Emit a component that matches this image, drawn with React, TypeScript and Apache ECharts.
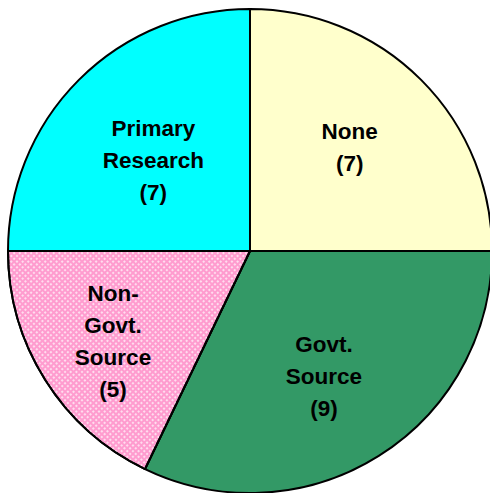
import React, { useEffect, useRef } from "react";
import * as echarts from "echarts";

const categories = ["None", "Govt.\nSource", "Non-\nGovt.\nSource", "Primary\nResearch"];
const values = [7, 9, 5, 7];
const colors = ["#ffffcc", "#339966", "#ff9ccf", "#00ffff"];
const labelOffsets: [number, number][] = [[12, -16], [8, 21], [-32, 25], [-9, -3]];

export default function App() {
  const ref = useRef<HTMLDivElement>(null);
  useEffect(() => {
    document.body.style.margin = "0";
    const chart = echarts.init(ref.current!, undefined, { renderer: "svg" });
    chart.setOption({
      animation: false,
      backgroundColor: "#ffffff",
      series: [
        {
          type: "pie",
          center: [250, 251],
          radius: 242,
          startAngle: 90,
          clockwise: true,
          silent: true,
          itemStyle: { borderColor: "#000000", borderWidth: 2 },
          label: {
            show: true,
            position: "inside",
            formatter: (p: any) => `${p.name}\n(${p.value})`,
            color: "#000000",
            fontFamily: "Liberation Sans, Arial, sans-serif",
            fontWeight: "bold",
            fontSize: 22.5,
            lineHeight: 32,
            align: "center",
          },
          labelLine: { show: false },
          data: categories.map((c, i) => ({
            name: c,
            value: values[i],
            itemStyle: {
              color: colors[i],
              decal: i === 2
                ? {
                    symbol: "rect",
                    color: "rgba(255,255,255,0.65)",
                    symbolSize: 1,
                    dashArrayX: [2, 2],
                    dashArrayY: [2, 2],
                    rotation: Math.PI / 4,
                  }
                : undefined,
            },
            label: { offset: labelOffsets[i] },
          })),
        },
      ],
    });
    return () => chart.dispose();
  }, []);
  return <div ref={ref} style={{ width: 490, height: 493 }} />;
}
